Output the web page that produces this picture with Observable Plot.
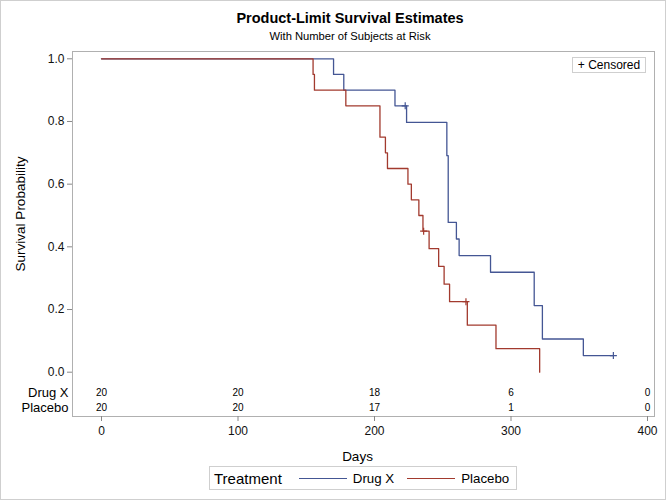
<!DOCTYPE html>
<html>
<head>
<meta charset="utf-8">
<script src="https://cdn.jsdelivr.net/npm/d3@7"></script>
<script src="https://cdn.jsdelivr.net/npm/@observablehq/plot@0.6"></script>
<style>
  html, body { margin: 0; padding: 0; background: #fff; }
  #wrap { position: relative; width: 666px; height: 500px; overflow: hidden; font-family: "Liberation Sans", Arial, sans-serif; color: #000; }
  #wrap svg { position: absolute; left: 0; top: 0; }
  .border { position: absolute; left: 0; top: 0; width: 664px; height: 498px; border: 1px solid #cfcfcf; pointer-events: none; }
  .title { position: absolute; left: 0; width: 700px; text-align: center; top: 10px; font-weight: bold; font-size: 14.5px; }
  .subtitle { position: absolute; left: 0; width: 700px; text-align: center; top: 30px; font-size: 11.2px; }
  .cens { position: absolute; left: 572px; top: 57px; width: 72px; height: 14px; border: 1px solid #cfcfcf; font-size: 12px; line-height: 14px; text-align: center; background: #fff; }
  .legend { position: absolute; left: 209px; top: 466px; width: 306px; height: 22px; border: 1px solid #cfcfcf; display: flex; align-items: center; font-size: 13.3px; white-space: nowrap; }
  .legend span { flex-shrink: 0; }
  .legend .ttl { font-size: 15px; margin-left: 4px; margin-right: 17px; }
  .legend .sw { display: inline-block; width: 48px; height: 0; border-top: 1.5px solid; margin-right: 6px; }
  .legend .lab { margin-right: 13px; }
</style>
</head>
<body>
<div id="wrap">
  <div class="title">Product-Limit Survival Estimates</div>
  <div class="subtitle">With Number of Subjects at Risk</div>
</div>
<script>
// Kaplan-Meier step data (days, survival probability)
const drugTime = [0, 170, 177.5, 215, 223.5, 253, 254, 260, 262, 285, 317, 323, 353, 375];
const drugSurv = [1, 0.95, 0.90, 0.85, 0.797, 0.691, 0.478, 0.425, 0.372, 0.319, 0.2125, 0.106, 0.053, 0.053];
const placeboTime = [0, 155, 156, 179, 204, 208, 209.5, 224.5, 227, 232.5, 235.5, 240, 247, 251, 255, 268, 289, 321];
const placeboSurv = [1, 0.95, 0.90, 0.85, 0.75, 0.70, 0.65, 0.60, 0.55, 0.50, 0.45, 0.394, 0.3375, 0.281, 0.225, 0.15, 0.075, 0];
// censored observations
const drugCensTime = [222.5, 375];
const drugCensSurv = [0.85, 0.053];
const placeboCensTime = [236, 267];
const placeboCensSurv = [0.45, 0.225];
// number at risk
const riskTimes = [0, 100, 200, 300, 400];
const drugRisk = [20, 20, 18, 6, 0];
const placeboRisk = [20, 20, 17, 1, 0];
const groups = ["Drug X", "Placebo"];
const colors = ["#445694", "#A23A2E"];
const xTicks = [0, 100, 200, 300, 400];
const yTicks = [0, 0.2, 0.4, 0.6, 0.8, 1.0];

const drug = drugTime.map((t, i) => ({t, s: drugSurv[i], g: groups[0]}));
const placebo = placeboTime.map((t, i) => ({t, s: placeboSurv[i], g: groups[1]}));
const censored = [
  ...drugCensTime.map((t, i) => ({t, s: drugCensSurv[i], g: groups[0]})),
  ...placeboCensTime.map((t, i) => ({t, s: placeboCensSurv[i], g: groups[1]}))
];
const drugRiskRows = riskTimes.map((t, i) => ({t, n: drugRisk[i]}));
const placeboRiskRows = riskTimes.map((t, i) => ({t, n: placeboRisk[i]}));

const chart = Plot.plot({
  width: 666,
  height: 500,
  marginLeft: 72,
  marginRight: 12,
  marginTop: 51,
  marginBottom: 84,
  style: {fontFamily: "Liberation Sans, Arial, sans-serif", fontSize: "12px", background: "transparent", color: "#000"},
  x: {domain: [0, 400], range: [101, 647]},
  y: {domain: [0, 1], range: [371.7, 58.3]},
  color: {domain: groups, range: colors},
  marks: [
    Plot.frame({stroke: "#b0b0b0"}),
    Plot.axisY({ticks: yTicks, tickFormat: d3.format(".1f"), tickSize: 5, stroke: "#888", fill: "#111", fontSize: 12, label: null, tickPadding: 3}),
    Plot.axisX({ticks: xTicks, tickSize: 5, stroke: "#888", fill: "#111", fontSize: 12, label: null, tickPadding: 5}),
    Plot.line(drug, {x: "t", y: "s", stroke: colors[0], strokeWidth: 1.3, curve: "step-after"}),
    Plot.line(placebo, {x: "t", y: "s", stroke: colors[1], strokeWidth: 1.3, curve: "step-after"}),
    Plot.dot(censored, {x: "t", y: "s", stroke: "g", symbol: "plus", r: 2.4, strokeWidth: 1.2}),
    Plot.text(drugRiskRows, {x: "t", text: d => String(d.n), frameAnchor: "bottom", lineAnchor: "middle", dy: -24, fontSize: 10, fill: "#000"}),
    Plot.text(placeboRiskRows, {x: "t", text: d => String(d.n), frameAnchor: "bottom", lineAnchor: "middle", dy: -8.5, fontSize: 10, fill: "#000"}),
    Plot.text([groups[0]], {text: d => d, frameAnchor: "bottom-left", lineAnchor: "middle", dx: -4, dy: -24, textAnchor: "end", fontSize: 13, fill: "#000"}),
    Plot.text([groups[1]], {text: d => d, frameAnchor: "bottom-left", lineAnchor: "middle", dx: -4, dy: -8.5, textAnchor: "end", fontSize: 13, fill: "#000"}),
    Plot.text(["Days"], {text: d => d, frameAnchor: "bottom", lineAnchor: "middle", textAnchor: "middle", dx: -6, dy: 40, fontSize: 13.5, fill: "#000"}),
    Plot.text(["Survival Probability"], {text: d => d, frameAnchor: "left", lineAnchor: "middle", textAnchor: "middle", dx: -52, dy: -20, rotate: -90, fontSize: 13.5, fill: "#000"})
  ]
});
const wrap = document.getElementById("wrap");
wrap.insertBefore(chart, wrap.firstChild);

const c = document.createElement("div");
c.className = "cens";
c.textContent = "+ Censored";
wrap.appendChild(c);
const lg = document.createElement("div");
lg.className = "legend";
let html = '<span class="ttl">Treatment</span>';
groups.forEach((g, i) => {
  html += '<span class="sw" style="border-color:' + colors[i] + '"></span><span class="lab">' + g + '</span>';
});
lg.innerHTML = html;
wrap.appendChild(lg);
const b = document.createElement("div");
b.className = "border";
wrap.appendChild(b);
</script>
</body>
</html>
